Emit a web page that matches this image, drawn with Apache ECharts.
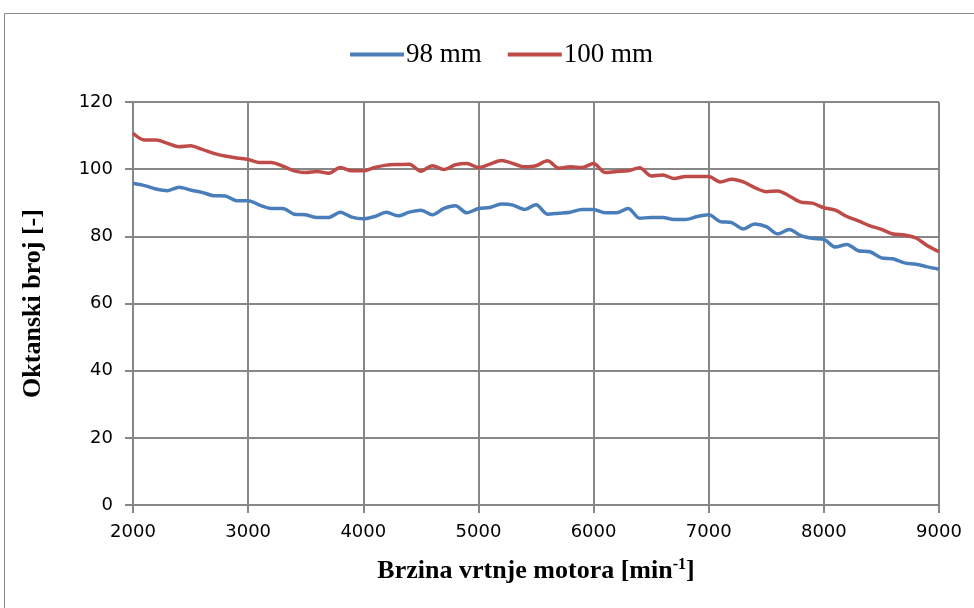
<!DOCTYPE html>
<html><head><meta charset="utf-8">
<script src="https://cdn.jsdelivr.net/npm/echarts@6/dist/echarts.min.js"></script>
<style>html,body{margin:0;padding:0;background:#fff}#c{width:974px;height:608px}</style>
</head><body><div id="c"></div>
<script>
const rpm = [];
for (let r = 2000; r <= 9000; r += 100) rpm.push(r);
const series98 = [95.8,95.1,94.1,93.6,94.6,93.8,93.1,92.1,92.0,90.6,
  90.6,89.3,88.3,88.3,86.6,86.4,85.6,85.6,87.2,85.7,
  85.2,85.9,87.2,86.1,87.2,87.8,86.4,88.3,89.1,87.0,
  88.3,88.6,89.6,89.3,88.0,89.4,86.6,86.9,87.2,88.0,
  88.0,87.0,87.0,88.3,85.4,85.6,85.6,85.0,85.0,85.9,
  86.4,84.4,84.1,82.2,83.7,82.9,80.7,82.0,80.2,79.4,
  79.1,76.8,77.6,75.7,75.4,73.6,73.3,72.1,71.7,70.9,70.2];
const series100 = [110.7,108.7,108.7,107.7,106.7,107.0,105.9,104.7,103.9,103.3,
  102.9,102.0,102.0,100.9,99.5,99.0,99.3,98.8,100.5,99.5,
  99.5,100.5,101.2,101.4,101.5,99.4,101.0,99.9,101.3,101.7,
  100.5,101.5,102.6,101.7,100.7,101.0,102.5,100.3,100.7,100.5,
  101.7,99.0,99.3,99.5,100.4,98.0,98.3,97.2,97.8,97.8,
  97.8,96.2,97.0,96.2,94.5,93.3,93.5,92.0,90.2,89.9,
  88.5,87.8,85.9,84.6,83.1,82.1,80.7,80.4,79.5,77.2,75.4];
const seriesNames = ['98 mm', '100 mm'];
const colors = ['#4A7EBB', '#BE4B48'];

const chart = echarts.init(document.getElementById('c'), null, {renderer: 'canvas'});
const gridColor = '#878787';
chart.setOption({
  animation: false,
  backgroundColor: '#fff',
  graphic: [{type: 'rect', shape: {x: 4.5, y: 13.5, width: 1000, height: 700},
    style: {fill: 'none', stroke: '#8a8a8a', lineWidth: 1}, z: -1}],
  legend: {
    top: 36, left: 345, itemGap: 26, itemWidth: 54, itemHeight: 4,
    icon: 'rect',
    textStyle: {fontFamily: 'Liberation Serif', fontSize: 27, color: '#000', padding: [0,0,0,-3]},
    data: seriesNames
  },
  grid: {left: 133, right: 35, top: 102, bottom: 103, containLabel: false},
  xAxis: {
    type: 'value', min: 2000, max: 9000, interval: 1000,
    name: '{a|Brzina vrtnje motora [min}{s|-1}{a|]}',
    nameLocation: 'middle', nameGap: 52,
    nameTextStyle: {rich: {
      a: {fontFamily: 'Liberation Serif', fontWeight: 'bold', fontSize: 26, color: '#000'},
      s: {fontFamily: 'Liberation Serif', fontWeight: 'bold', fontSize: 16, color: '#000', verticalAlign: 'top', padding: [0,0,12,0]}
    }},
    axisLine: {lineStyle: {color: gridColor, width: 2}},
    axisTick: {show: true, inside: false, length: 8, lineStyle: {color: gridColor, width: 2}},
    axisLabel: {margin: 18, fontFamily: 'DejaVu Sans', fontSize: 18, color: '#000', formatter: v => String(v)},
    splitLine: {show: true, lineStyle: {color: gridColor, width: 2}}
  },
  yAxis: {
    type: 'value', min: 0, max: 120, interval: 20,
    name: 'Oktanski broj [-]', nameLocation: 'middle', nameGap: 87, nameRotate: 90,
    nameTextStyle: {fontFamily: 'Liberation Serif', fontWeight: 'bold', fontSize: 26, color: '#000'},
    axisLine: {show: true, lineStyle: {color: gridColor, width: 2}},
    axisTick: {show: true, inside: false, length: 8, lineStyle: {color: gridColor, width: 2}},
    axisLabel: {margin: 20, fontFamily: 'DejaVu Sans', fontSize: 18, color: '#000'},
    splitLine: {show: true, lineStyle: {color: gridColor, width: 2}}
  },
  series: [
    {name: seriesNames[0], type: 'line', smooth: 0.3, showSymbol: false, symbol: 'none',
     data: rpm.map((r, i) => [r, series98[i]]),
     lineStyle: {color: colors[0], width: 3.5}, itemStyle: {color: colors[0]}},
    {name: seriesNames[1], type: 'line', smooth: 0.3, showSymbol: false, symbol: 'none',
     data: rpm.map((r, i) => [r, series100[i]]),
     lineStyle: {color: colors[1], width: 3.5}, itemStyle: {color: colors[1]}}
  ]
});
</script></body></html>
